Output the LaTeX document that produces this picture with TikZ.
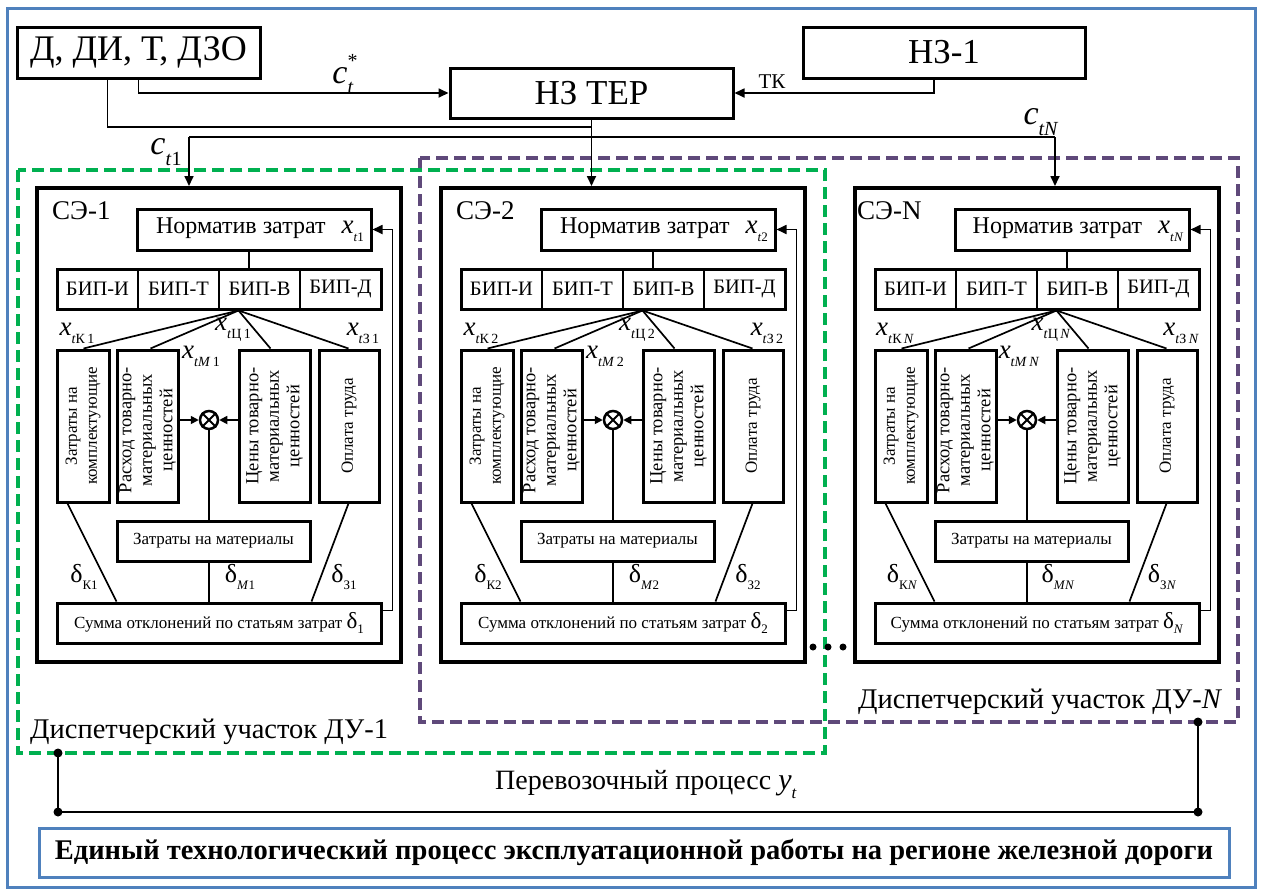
\documentclass[tikz,border=0pt]{standalone}
\usepackage{fontspec}
\setmainfont{Liberation Serif}
\usepackage{graphicx}
\usetikzlibrary{arrows.meta,calc}
\definecolor{bordblue}{HTML}{4F81BD}
\definecolor{dugreen}{HTML}{00B050}
\definecolor{dupurple}{HTML}{5F497A}
\newcommand\fs[1]{\fontsize{#1}{#1}\selectfont}
\newcommand\lw[2]{\raisebox{-0.3em}{\fontsize{#1}{#1}\selectfont #2}}
\newcommand\upr[2]{\raisebox{0.45em}{\fontsize{#1}{#1}\selectfont #2}}
\newcommand\bx[7]{\node[#6, minimum width={#4-#2}, minimum height={#5-#3}] (#1) at ({(#2+#4)/2},{(#3+#5)/2}) {#7};}
\begin{document}
\begin{tikzpicture}[x=1pt,y=-1pt,
  box/.style={draw, line width=3pt, inner sep=0pt, align=center},
  plain/.style={inner sep=0pt, align=center},
  sebox/.style={draw, line width=4pt, inner sep=0pt},
  conn/.style={line width=1.7pt},
  arr/.style={line width=1.7pt, -{Triangle[length=10pt,width=9pt]}},
  arrs/.style={line width=1.7pt, -{Triangle[length=8pt,width=8pt]}},
  vtext/.style={rotate=90, align=center, inner sep=0pt, font={\fontsize{17}{20}\selectfont}},
  vtextb/.style={rotate=90, align=center, inner sep=0pt, font={\fontsize{18.5}{20.5}\selectfont}},
  lbl/.style={inner sep=0pt},
  dot/.style={circle, fill=black, inner sep=0pt, minimum size=9pt}
]
\useasboundingbox (0,0) rectangle (1262,892);
\draw[bordblue, line width=3pt] (7,8) rectangle (1255,887);

% dispatcher areas
\draw[dupurple, line width=3.5pt, dash pattern=on 12pt off 6pt] (420,158) rectangle (1238,722);
\draw[dugreen, line width=4pt, dash pattern=on 12pt off 6pt] (18,170) rectangle (825,753);

% top blocks
\bx{dit}{17}{27}{260}{78}{box}{\fs{36}Д, ДИ, Т, ДЗО}
\bx{ter}{450}{68}{733}{118}{box}{\fs{35}НЗ ТЕР}
\bx{nz}{803}{27}{1085}{78}{box}{\fs{35}НЗ-1}

\foreach \i/\dx/\s/\lx in {1/0/1/52,2/404/2/52,N/818/{\textit{N}}/39}{
\begin{scope}[xshift=\dx]
  \bx{se\i}{37}{188}{401}{662}{sebox}{}
  \node[anchor=north west, inner sep=0pt] (lab\i) at (\lx,201) {\fs{27}СЭ-\i};
  \bx{nor\i}{137}{209}{371}{250}{box}{\hspace{12pt}\fs{24}Норматив затрат\hspace{16pt}\fs{27}\textit{x}\lw{13}{\textit{t}\s}}
  \bx{bip\i}{57}{269}{381}{309}{box}{}
  \bx{bi\i}{57}{269}{138}{309}{plain}{\fs{20.5}БИП-И}
  \bx{bt\i}{138}{269}{219}{309}{plain}{\fs{20.5}БИП-Т}
  \bx{bv\i}{219}{269}{300}{309}{plain}{\fs{20.5}БИП-В}
  \bx{bd\i}{300}{269}{381}{309}{plain}{\fs{20.5}БИП-Д}
  \draw[conn] (bi\i.north east) -- (bi\i.south east);
  \draw[conn] (bt\i.north east) -- (bt\i.south east);
  \draw[conn] (bv\i.north east) -- (bv\i.south east);
  \draw[conn] ([xshift=-5pt]nor\i.south) -- ([xshift=-5pt]nor\i.south |- bip\i.north);
  \bx{va\i}{57}{350}{109}{502}{box}{}
  \bx{vb\i}{117}{350}{178}{502}{box}{}
  \bx{vc\i}{239}{350}{310}{502}{box}{}
  \bx{vd\i}{319}{350}{379}{502}{box}{}
  \node[vtext] (tva\i) at (va\i) {Затраты на\\комплектующие};
  \node[vtextb] (tvb\i) at ([yshift=-4pt]vb\i.center) {Расход товарно-\\материальных\\ценностей};
  \node[vtextb] (tvc\i) at (vc\i) {Цены товарно-\\материальных\\ценностей};
  \node[vtext] (tvd\i) at (vd\i) {Оплата труда};
  \coordinate (fan\i) at ([xshift=183pt]bip\i.south west);
  \draw[conn] (fan\i) -- ([xshift=28pt]va\i.north west);
  \draw[conn] (fan\i) -- ([xshift=35pt]vb\i.north west);
  \draw[conn] (fan\i) -- ([xshift=33pt]vc\i.north west);
  \draw[conn] (fan\i) -- ([xshift=31pt]vd\i.north west);
  \node[circle, draw, line width=2.5pt, minimum size=18pt, inner sep=0pt] (m\i) at (209,420) {};
  \draw[line width=2pt] (m\i.45) -- (m\i.225) (m\i.135) -- (m\i.315);
  \draw[arrs] (vb\i.east |- m\i) -- (m\i.west);
  \draw[arrs] (vc\i.west |- m\i) -- (m\i.east);
  \bx{mat\i}{117}{521}{310}{561}{box}{\fs{17}Затраты на материалы}
  \bx{sum\i}{57}{603}{381}{643}{box}{\fs{17}Сумма отклонений по статьям затрат {\fs{23}δ}\lw{13}{\s}}
  \draw[conn] (m\i.south) -- (m\i |- mat\i.north);
  \draw[conn] (m\i |- mat\i.south) -- (m\i |- sum\i.north);
  \draw[conn] ([xshift=12pt]va\i.south west) -- ([xshift=61pt]sum\i.north west);
  \draw[conn] ([xshift=31pt]vd\i.south west) -- ([xshift=-71pt]sum\i.north east);
  \draw[arr] ([yshift=-9pt]sum\i.north east) -| ([xshift=20pt]nor\i.east) -- (nor\i.east);
  \node[lbl] (xk\i) at (77,333) {\fs{27}\textit{x}\lw{14}{\textit{t}К\,\s}};
  \node[lbl] (xc\i) at (233,330) {\fs{27}\textit{x}\lw{14}{\textit{t}Ц\,\s}};
  \node[lbl] (xz\i) at (363,333) {\fs{27}\textit{x}\lw{14}{\textit{t}З\,\s}};
  \node[lbl] (xm\i) at (201,356) {\fs{27}\textit{x}\lw{14}{\textit{tM}\,\s}};
  \node[lbl] (dk\i) at (84,577) {\fs{26}δ\lw{13}{К\s}};
  \node[lbl] (dm\i) at (240,577) {\fs{26}δ\lw{13}{\textit{M}\s}};
  \node[lbl] (dz\i) at (344,577) {\fs{26}δ\lw{13}{З\s}};
\end{scope}
}

% top connectors
\draw[arr] (dit.south) |- (ter.west);
\coordinate (j1) at (ter.south |- 0,127);
\draw[conn] ([xshift=-31pt]dit.south) |- (j1);
\draw[arr] (ter.south) -- (ter.south |- se2.north);
\coordinate (h1) at (189,137);
\coordinate (hN) at (1055,137);
\draw[conn] (h1) -- (hN);
\draw[arr] (h1) -- (h1 |- se1.north);
\draw[arr] (hN) -- (hN |- seN.north);
\draw[arr] ([xshift=-10pt]nz.south) |- (ter.east);

\node[lbl] (cst) at (343,74) {\fs{34}\textit{c}\rlap{\upr{20}{*}}\lw{20}{\textit{t}}};
\node[lbl] (tk) at (772,82) {\fs{21}ТК};
\node[lbl] (ct1) at (166,152) {\fs{34}\textit{c}\lw{20}{\textit{t}1}};
\node[lbl] (ctN) at (1041,122) {\fs{34}\textit{c}\lw{20}{\textit{tN}}};

% dots
\node[dot, minimum size=7pt] (e1) at (813,647) {};
\node[dot, minimum size=7pt] (e2) at (828,647) {};
\node[dot, minimum size=7pt] (e3) at (843,647) {};

\node[anchor=base west, inner sep=0pt] (du1) at (30,738) {\fs{28.5}Диспетчерский участок ДУ-1};
\node[anchor=base west, inner sep=0pt] (duN) at (858,708) {\fs{28.5}Диспетчерский участок ДУ-\textit{N}};

% transport process
\node[dot] (g1) at (58,753) {};
\node[dot] (b1) at (58,812) {};
\node[dot] (b2) at (1198,812) {};
\node[dot] (p1) at (1198,722) {};
\draw[line width=2.5pt] (g1.center) -- (b1.center) -- (b2.center) -- (p1.center);
\node[anchor=base west, inner sep=0pt] (pp) at (495,789) {\fs{28}Перевозочный процесс \fs{30}\textit{y}\lw{17}{\textit{t}}};

\bx{ep}{39}{828}{1229}{877}{draw=bordblue, line width=3pt, inner sep=0pt}{\fs{28.5}\bfseries Единый технологический процесс эксплуатационной работы на регионе железной дороги}
\end{tikzpicture}
\end{document}
